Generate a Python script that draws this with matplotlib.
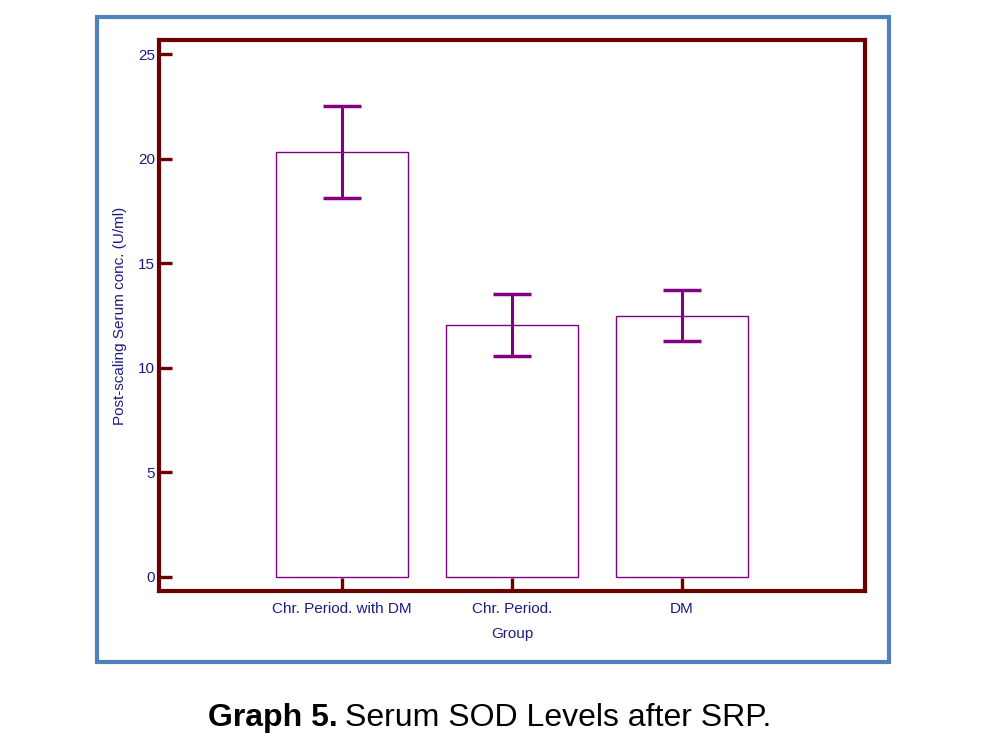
import matplotlib
matplotlib.use("Agg")
import matplotlib.pyplot as plt
from matplotlib.patches import Rectangle

groups = ["Chr. Period. with DM", "Chr. Period.", "DM"]
means = [20.3, 12.05, 12.48]
sds = [2.2, 1.5, 1.22]

dark_red = "#6b0000"
navy = "#1c1c80"
purple = "#800080"

fig = plt.figure(figsize=(9.98, 7.45), dpi=100)
plt.rcParams['font.family'] = ['Liberation Sans', 'DejaVu Sans']

# blue outer frame
fig.patches.append(Rectangle((97/998, 1-662/745), (889-97)/998, (662-17)/745,
                             transform=fig.transFigure, fill=False,
                             edgecolor="#4f81bd", linewidth=3))

ax = fig.add_axes([159/998, 1-591/745, 706/998, 551/745])
x = range(len(groups))
ax.bar(x, means, width=0.78, facecolor="white", edgecolor=purple, linewidth=1)
ax.errorbar(x, means, yerr=sds, fmt="none", ecolor=purple, elinewidth=2.2,
            capsize=13.5, capthick=2.5)

ax.set_xlim(-1.076, 3.076)
ax.set_ylim(-0.67, 25.67)
ax.set_yticks([0, 5, 10, 15, 20, 25])
ax.set_xticks(list(x))
ax.set_xticklabels(groups)
for s in ax.spines.values():
    s.set_color(dark_red)
    s.set_linewidth(3)
ax.tick_params(axis="both", direction="in", length=9.5, width=2.4, color=dark_red,
               labelcolor=navy, labelsize=11)
ax.tick_params(axis="y", pad=3)
ax.tick_params(axis="x", pad=8)
ax.set_ylabel("Post-scaling Serum conc. (U/ml)", color=navy, fontsize=11, labelpad=8)
ax.set_xlabel("Group", color=navy, fontsize=11, labelpad=8)

# caption
cap_font = ['Liberation Sans Narrow', 'Liberation Sans', 'DejaVu Sans']
t1 = fig.text(208/998, 1-718/745, "Graph 5.", fontsize=23, fontweight="bold",
              family=cap_font, va="center", ha="left")
fig.canvas.draw()
bb = t1.get_window_extent()
fig.text((bb.x1 + 7)/998, 1-718/745, "Serum SOD Levels after SRP.", fontsize=23,
         family=cap_font, va="center", ha="left")

fig.savefig("out.png", dpi=100)
